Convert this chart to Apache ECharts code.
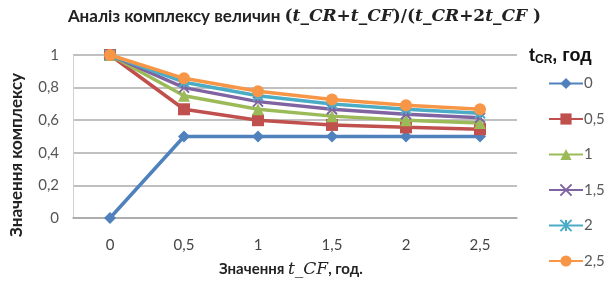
<!DOCTYPE html>
<html>
<head>
<meta charset="utf-8">
<script src="https://cdn.jsdelivr.net/npm/echarts@6/dist/echarts.min.js"></script>
<style>
  html, body { margin: 0; padding: 0; background: #fff; }
  #chart { width: 609px; height: 283px; }
</style>
</head>
<body>
<div id="chart"></div>
<script>
// t_CF values (x axis)
const categories = ['0', '0.5', '1', '1.5', '2', '2.5']
// t_CR values (one series each)
const seriesNames = ['0', '0.5', '1', '1.5', '2', '2.5']
const s0 = [0, 0.5, 0.5, 0.5, 0.5, 0.5]
const s05 = [1, 0.667, 0.6, 0.571, 0.556, 0.545]
const s1 = [1, 0.75, 0.667, 0.625, 0.6, 0.583]
const s15 = [1, 0.8, 0.714, 0.667, 0.636, 0.615]
const s2 = [1, 0.833, 0.75, 0.7, 0.667, 0.643]
const s25 = [1, 0.857, 0.778, 0.727, 0.692, 0.667]
const yTicks = [0, 0.2, 0.4, 0.6, 0.8, 1]

const comma = v => String(v).replace('.', ',')

const colors = ['#4F81BD', '#C0504D', '#9BBB59', '#8064A2', '#4BACC6', '#F79646']
const symbols = [
  'diamond',
  'rect',
  'triangle',
  'path://M0,0 L10,10 M10,0 L0,10',
  'path://M0,0 L10,10 M10,0 L0,10 M5,0 L5,10',
  'circle'
]
const sizes = [12, 12, 12, 10, 10, 12]
const allData = [s0, s05, s1, s15, s2, s25]

const chart = echarts.init(document.getElementById('chart'))

const labelFont = 'Lato, "Open Sans", sans-serif'
const mathFont = '"DejaVu Serif", "Liberation Serif", serif'

chart.setOption({
  animation: false,
  backgroundColor: '#fff',
  title: {
    text: '{b|Аналіз комплексу величин }{u|(}{i|t_CR}{u|+}{i|t_CF}{u|)/(}{i|t_CR}{u|+2}{i|t_CF}{u| )}',
    left: 'center',
    top: 3,
    textStyle: {
      rich: {
        b: { fontFamily: labelFont, fontWeight: 'bold', fontSize: 17, color: '#222' },
        u: { fontFamily: mathFont, fontSize: 17, color: '#222' },
        i: { fontFamily: mathFont, fontStyle: 'italic', fontSize: 17, color: '#222' }
      }
    }
  },
  graphic: [
    {
      type: 'text',
      left: 529,
      top: 47,
      style: {
        text: '{t|t}{s|CR}{t|, год}',
        rich: {
          t: { fontFamily: 'Liberation Sans, Arial, sans-serif', fontWeight: 'bold', fontSize: 18, fill: '#111' },
          s: { fontFamily: 'Liberation Sans, Arial, sans-serif', fontWeight: 'bold', fontSize: 12, fill: '#111', verticalAlign: 'bottom', padding: [7, 0, 0, 0] }
        }
      }
    },
    {
      type: 'text',
      rotation: Math.PI / 2,
      position: [8, 237],
      style: {
        text: 'Значення комплексу',
        fontFamily: labelFont,
        fontWeight: 'bold',
        fontSize: 17,
        fill: '#222'
      }
    },
    {
      type: 'text',
      left: 219,
      top: 261,
      style: {
        text: '{b|Значення }{i|t_CF}{b|, год.}',
        rich: {
          b: { fontFamily: labelFont, fontWeight: 'bold', fontSize: 15, fill: '#222' },
          i: { fontFamily: mathFont, fontStyle: 'italic', fontSize: 17, fill: '#222' }
        }
      }
    }
  ],
  legend: {
    orient: 'vertical',
    left: 543,
    top: 71,
    itemWidth: 34,
    itemHeight: 14,
    itemGap: 20.5,
    textStyle: { fontFamily: labelFont, fontSize: 15, color: '#595959', padding: [0, 0, 0, -4] },
    formatter: name => comma(name),
    data: seriesNames
  },
  grid: { left: 73, right: 92, top: 55, bottom: 65 },
  xAxis: {
    type: 'category',
    data: categories,
    boundaryGap: true,
    axisTick: { show: false },
    axisLine: { lineStyle: { color: '#A6A6A6', width: 1.5 } },
    axisLabel: {
      margin: 20,
      fontFamily: labelFont,
      fontSize: 15,
      color: '#444',
      formatter: v => comma(v)
    }
  },
  yAxis: {
    type: 'value',
    min: yTicks[0],
    max: yTicks[yTicks.length - 1],
    interval: 0.2,
    axisLine: { show: true, lineStyle: { color: '#D0D0D0', width: 1 } },
    axisTick: { show: false },
    splitLine: { lineStyle: { color: '#ABABAB', width: 1.5 } },
    axisLabel: {
      margin: 14,
      fontFamily: labelFont,
      fontSize: 15,
      color: '#555',
      formatter: v => comma(v)
    }
  },
  series: seriesNames.map((name, i) => ({
    name,
    type: 'line',
    data: allData[i],
    color: colors[i],
    symbol: symbols[i],
    symbolSize: sizes[i],
    showAllSymbol: true,
    lineStyle: { width: 3.5, color: colors[i] },
    itemStyle: { color: colors[i], borderColor: colors[i], borderWidth: i === 3 || i === 4 ? 2 : 0 },
    z: 2 + i
  }))
})
</script>
</body>
</html>
